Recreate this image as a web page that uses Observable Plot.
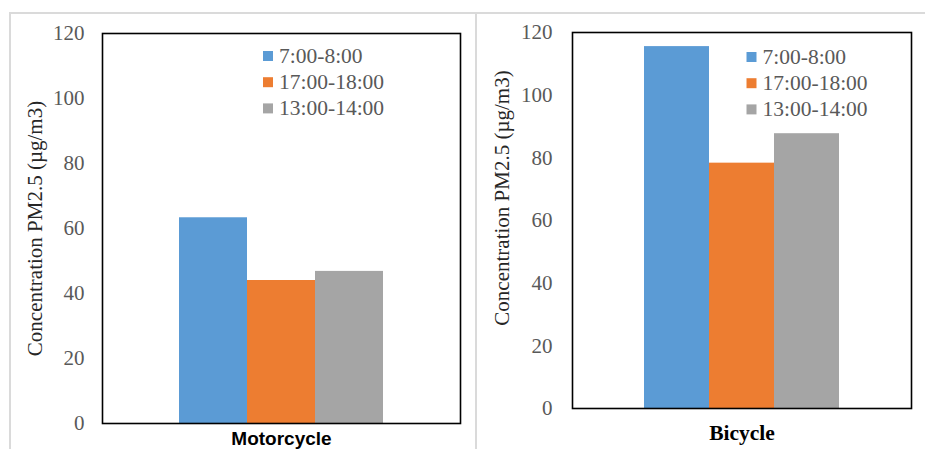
<!DOCTYPE html>
<html>
<head>
<meta charset="utf-8">
<script src="https://cdn.jsdelivr.net/npm/d3@7"></script>
<script src="https://cdn.jsdelivr.net/npm/@observablehq/plot@0.6"></script>
<style>
  html, body { margin: 0; padding: 0; background: #fff; }
  #page { position: relative; width: 925px; height: 449px; overflow: hidden; background: #fff; }
  .rule { position: absolute; background: #dadada; }
  .panel { position: absolute; top: 0; }
</style>
</head>
<body>
<div id="page">
  <div class="rule" style="left:9px; top:12px; width:916px; height:2px;"></div>
  <div class="rule" style="left:9px; top:12px; width:2px; height:437px;"></div>
  <div class="rule" style="left:475px; top:12px; width:2px; height:437px;"></div>
  <div class="panel" id="left" style="left:0px;"></div>
  <div class="panel" id="right" style="left:476px;"></div>
</div>
<script>
// PM2.5 concentration by time slot, one panel per vehicle type
const categories = ["Motorcycle", "Bicycle"];
const seriesNames = ["7:00-8:00", "17:00-18:00", "13:00-14:00"];
const seriesColors = ["#5B9BD5", "#ED7D31", "#A5A5A5"];
const motorcycleValues = [63.3, 44.0, 46.8];
const bicycleValues = [115.5, 78.3, 87.7];
const yTicks = [0, 20, 40, 60, 80, 100, 120];
const yTitle = "Concentration PM2.5 (µg/m3)";

function panel({category, values, width, height, margins, padOuter, tickPadding,
                titleDx, titleDy, legendDx, legendDy, catFont, catDy}) {
  const rows = seriesNames.map((s, i) => ({series: s, value: values[i]}));
  const legend = seriesNames.flatMap((s, i) => [
    Plot.dot([s], {frameAnchor: "top-left", dx: legendDx, dy: legendDy + i * 26.2,
                   symbol: "square", r: 5.64, fill: d => d}),
    Plot.text([s], {frameAnchor: "top-left", dx: legendDx + 11, dy: legendDy + i * 26.2,
                    text: d => d, textAnchor: "start", lineAnchor: "middle",
                    fill: "#595959", fontSize: 21.5})
  ]);
  return Plot.plot({
    width, height,
    marginTop: margins[0], marginRight: margins[1], marginBottom: margins[2], marginLeft: margins[3],
    style: {fontFamily: "'Liberation Serif', 'Times New Roman', serif", fontSize: "21px", background: "transparent"},
    x: {domain: seriesNames, paddingInner: 0, paddingOuter: padOuter, axis: null},
    y: {domain: [0, 120], axis: null},
    color: {domain: seriesNames, range: seriesColors},
    marks: [
      Plot.barY(rows, {x: "series", y: "value", fill: "series", inset: 0}),
      Plot.axisY({ticks: yTicks, tickSize: 0, tickPadding, color: "#595959", label: null, fontSize: 21}),
      Plot.frame({stroke: "#000", strokeWidth: 1.6}),
      Plot.text([yTitle], {frameAnchor: "left", dx: titleDx, dy: titleDy, rotate: -90,
                           textAnchor: "middle", lineAnchor: "middle",
                           text: d => d, fill: "#262626", fontSize: 21}),
      ...legend,
      Plot.text([category], {frameAnchor: "bottom", dy: catDy, text: d => d,
                             textAnchor: "middle", lineAnchor: "middle",
                             fill: "#000", ...catFont})
    ]
  });
}

document.getElementById("left").appendChild(panel({
  category: categories[0], values: motorcycleValues,
  width: 470, height: 449, margins: [33, 10, 26, 102], padOuter: 1.107, tickPadding: 18,
  titleDx: -67, titleDy: 0, legendDx: 165.5, legendDy: 22.5,
  catFont: {fontFamily: "'Liberation Sans', Arial, sans-serif", fontWeight: "bold", fontSize: 19},
  catDy: 15.5
}));

document.getElementById("right").appendChild(panel({
  category: categories[1], values: bicycleValues,
  width: 449, height: 449, margins: [32, 14, 41, 96], padOuter: 1.094, tickPadding: 20,
  titleDx: -70, titleDy: -22.5, legendDx: 179, legendDy: 24.5,
  catFont: {fontFamily: "'Liberation Serif', 'Times New Roman', serif", fontWeight: "bold", fontSize: 21.5},
  catDy: 24.6
}));
</script>
</body>
</html>
